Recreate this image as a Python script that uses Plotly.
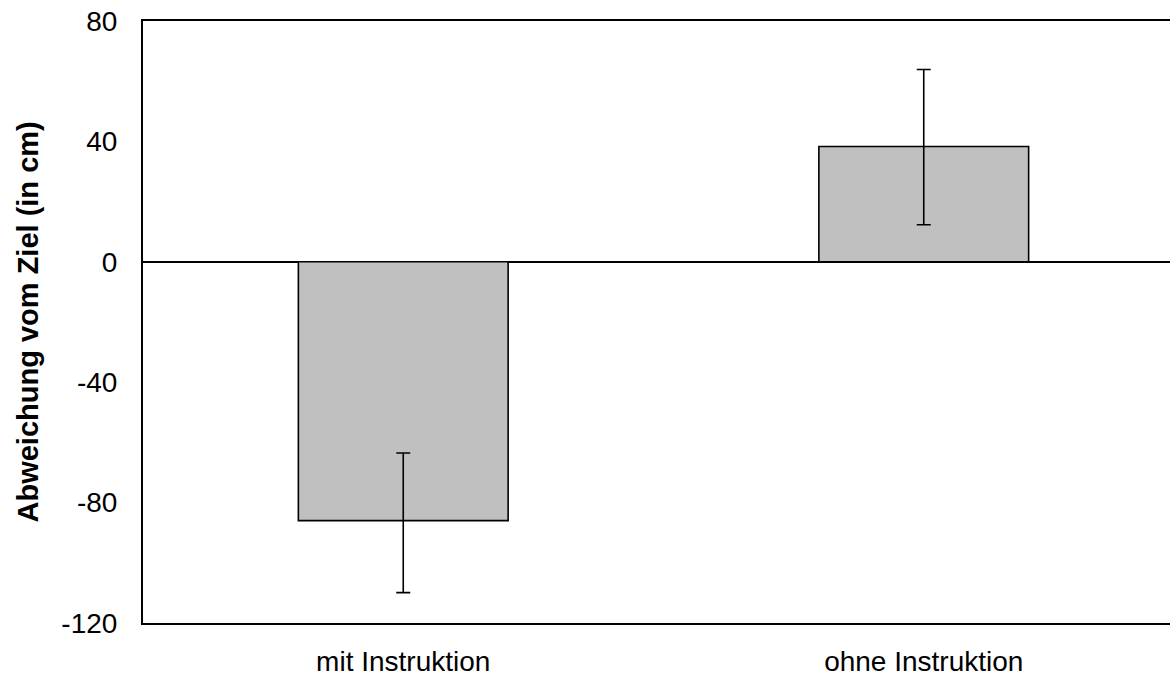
import plotly.graph_objects as go

categories = ["mit Instruktion", "ohne Instruktion"]
means = [-86.0, 38.3]
err_plus = [22.5, 25.6]
err_minus = [23.9, 26.0]
y_ticks = [-120, -80, -40, 0, 40, 80]
y_tick_labels = ["-120", "-80", "-40", "0", "40", "80"]
y_title = "Abweichung vom Ziel (in cm)"

FONT = "Liberation Sans, Arial, sans-serif"

fig = go.Figure()
fig.add_trace(go.Bar(
    x=[0, 1],
    y=means,
    width=0.403,
    marker=dict(color="#C0C0C0", line=dict(color="black", width=1.6)),
    error_y=dict(type="data", symmetric=False, array=err_plus, arrayminus=err_minus,
                 color="black", thickness=1.6, width=7),
    showlegend=False,
))

W, H = 1170, 683
ml, mt = 143, 21
mb = H - 623
mr = 0
plot_w = W - ml - mr
cat_px = 520.5

fig.update_layout(
    width=W, height=H,
    margin=dict(l=ml, r=mr, t=mt, b=mb, autoexpand=False),
    plot_bgcolor="white", paper_bgcolor="white",
    font=dict(family=FONT, size=28, color="black"),
    xaxis=dict(
        range=[-0.5, -0.5 + plot_w / cat_px],
        tickmode="array", tickvals=[0, 1], ticktext=categories,
        showline=True, linecolor="black", linewidth=2, mirror=True,
        showgrid=False, zeroline=False, ticks="",
        ticklabelstandoff=12,
        tickfont=dict(family=FONT, size=28, color="black"),
    ),
    yaxis=dict(
        range=[-120, 80],
        tickmode="array", tickvals=y_ticks, ticktext=y_tick_labels,
        showline=True, linecolor="black", linewidth=2, mirror=False,
        showgrid=False, zeroline=True, zerolinecolor="black", zerolinewidth=1.6,
        ticks="", ticklabelstandoff=18,
        tickfont=dict(family=FONT, size=28, color="black"),
    ),
    annotations=[dict(
        text="<b>" + y_title + "</b>",
        textangle=-90,
        xref="paper", yref="paper",
        x=(27.5 - ml) / plot_w, y=0.5,
        xanchor="center", yanchor="middle",
        showarrow=False,
        font=dict(family=FONT, size=29, color="black"),
    )],
)

fig.write_html(
    "out.html",
    config={"displayModeBar": False},
    post_script="document.body.style.margin='0';document.body.style.overflow='hidden';",
)
